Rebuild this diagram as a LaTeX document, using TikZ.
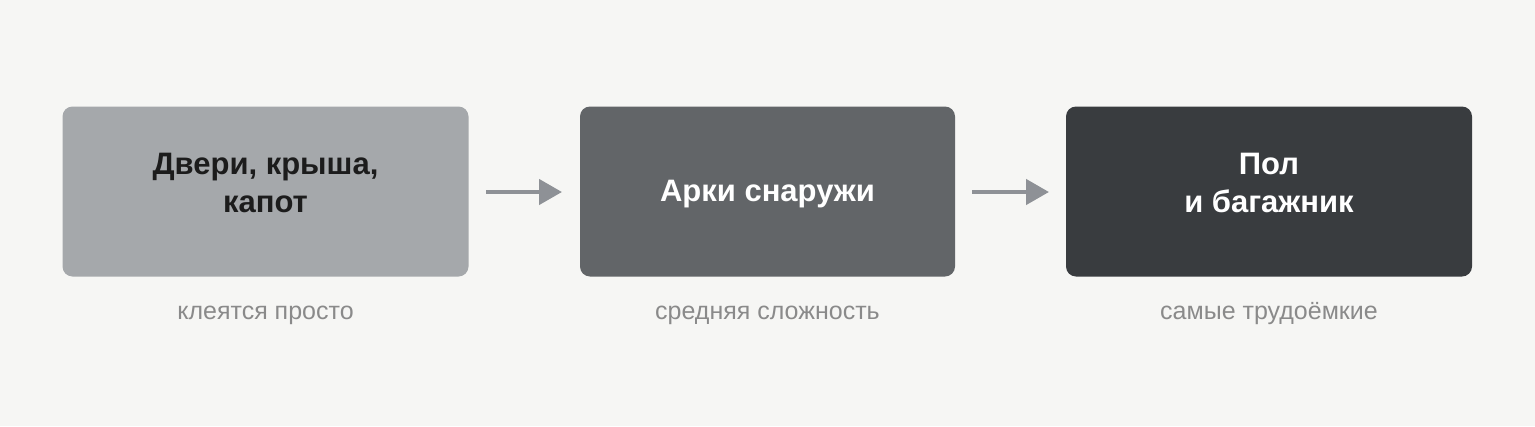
\documentclass[tikz,border=0pt]{standalone}
\usepackage{fontspec}
\setmainfont{Liberation Sans}
\usetikzlibrary{arrows.meta}
\definecolor{bgc}{HTML}{F6F6F4}
\definecolor{boxa}{HTML}{A5A8AB}
\definecolor{boxb}{HTML}{626568}
\definecolor{boxc}{HTML}{393C3F}
\definecolor{arrc}{HTML}{8E9196}
\definecolor{capc}{HTML}{8A8A8A}
\definecolor{darktext}{HTML}{1C1C1C}
\tikzset{
  stagebox/.style={rounded corners=10pt, minimum height=170pt, inner sep=0pt},
  titletext/.style={font=\fontsize{31}{38}\selectfont\bfseries, anchor=base, inner sep=0pt},
  captext/.style={font=\fontsize{25}{28}\selectfont, text=capc, anchor=base, inner sep=0pt},
  flowarrow/.style={draw=arrc, line width=4.5pt, -{Triangle[length=23pt,width=25pt]}}
}
\begin{document}
\begin{tikzpicture}[x=1pt,y=-1pt]
\useasboundingbox (0,0) rectangle (1535,426);
\fill[bgc] (0,0) rectangle (1535,426);
% boxes
\node[stagebox, fill=boxa, minimum width=406pt] (b1) at (265.5,191.5) {};
\node[stagebox, fill=boxb, minimum width=375pt] (b2) at (767.5,191.5) {};
\node[stagebox, fill=boxc, minimum width=406pt] (b3) at (1269,191.5) {};
% titles
\node[titletext, text=darktext] (t1a) at (265.5,174) {Двери, крыша,};
\node[titletext, text=darktext] (t1b) at (265.5,212.5) {капот};
\node[titletext, text=white] (t2) at (767.5,201.5) {Арки снаружи};
\node[titletext, text=white] (t3a) at (1269,174) {Пол};
\node[titletext, text=white] (t3b) at (1269,212.5) {и багажник};
% captions
\node[captext] (c1) at (265.5,319.5) {клеятся просто};
\node[captext] (c2) at (767.5,319.5) {средняя сложность};
\node[captext] (c3) at (1269,319.5) {самые трудоёмкие};
% arrows
\coordinate (a1s) at (486,192);
\coordinate (a1e) at (562,192);
\coordinate (a2s) at (972,192);
\coordinate (a2e) at (1049,192);
\draw[flowarrow] (a1s) -- (a1e);
\draw[flowarrow] (a2s) -- (a2e);
\end{tikzpicture}
\end{document}
